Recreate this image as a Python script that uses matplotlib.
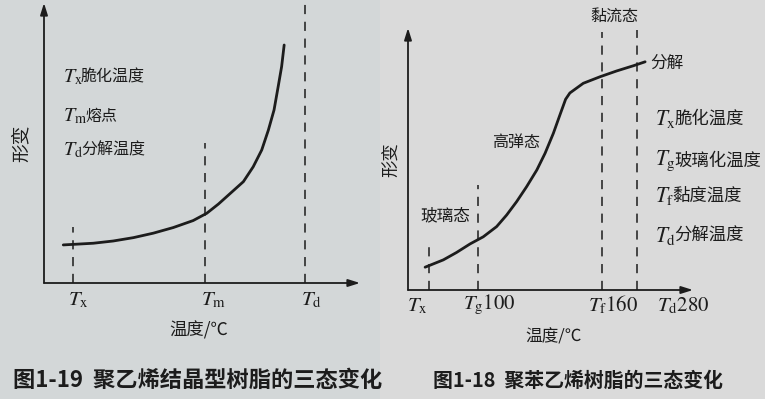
import numpy as np
import matplotlib
matplotlib.use('Agg')
import matplotlib.pyplot as plt

plt.rcParams['font.family'] = ['Noto Sans CJK SC', 'DejaVu Sans']
plt.rcParams['mathtext.fontset'] = 'stix'

# 图1-19 聚乙烯：温度 (相对单位) 与形变 (相对单位)
pe_temp = [6.1, 9.3, 15.6, 21.9, 28.3, 34.6, 40.9, 47.2, 51.5, 55.2, 63.1, 66.2,
           68.9, 71.0, 72.8, 74.1, 75.2, 76.0]
pe_def = [13.6, 13.8, 14.2, 15.0, 16.2, 17.8, 19.8, 22.3, 24.9, 28.2, 36.2, 41.5,
          47.5, 54.6, 61.8, 70.1, 77.3, 85.0]
pe_marks = [9.2, 51.0, 82.6]          # Tx, Tm, Td
pe_mark_top = [20.0, 50.0, 101.0]
pe_ticks = [r'$T_\mathrm{x}$', r'$T_\mathrm{m}$', r'$T_\mathrm{d}$']
pe_syms = [r'$T_\mathrm{x}$', r'$T_\mathrm{m}$', r'$T_\mathrm{d}$']
pe_notes = ['脆化温度', '熔点', '分解温度']

# 图1-18 聚苯乙烯
ps_temp = [6.0, 12.4, 17.0, 21.8, 26.4, 31.1, 34.6, 38.1, 41.6, 45.2, 48.1, 51.0,
           53.3, 55.3, 56.8, 61.5, 67.4, 73.2, 79.1, 83.2]
ps_def = [8.7, 11.5, 14.3, 17.6, 20.3, 24.2, 28.6, 33.7, 39.4, 45.8, 52.2, 59.8,
          66.8, 72.8, 75.2, 78.9, 81.4, 83.6, 85.6, 87.1]
ps_marks = [7.4, 24.6, 68.1, 80.4]    # Tx, Tg, Tf, Td
ps_mark_top = [19.1, 40.0, 98.5, 99.2]
ps_ticks = [r'$T_\mathrm{x}$', r'$T_\mathrm{g}\mathrm{100}$', r'$T_\mathrm{f}\mathrm{160}$',
            r'$T_\mathrm{d}\mathrm{280}$']
ps_syms = [r'$T_\mathrm{x}$', r'$T_\mathrm{g}$', r'$T_\mathrm{f}$', r'$T_\mathrm{d}$']
ps_notes = ['脆化温度', '玻璃化温度', '黏度温度', '分解温度']

ink = '#1c1c1c'
W, H = 765, 399
fig = plt.figure(figsize=(W / 100, H / 100), dpi=100)
fig.patch.set_facecolor('#dadada')

# 两张照片的底色略有不同
bg = fig.add_axes([0, 0, 380 / W, 1])
bg.set_facecolor('#d3d7d8')
bg.set_xticks([])
bg.set_yticks([])
for s in bg.spines.values():
    s.set_visible(False)


def panel(rect):
    ax = fig.add_axes(rect)
    ax.set_xlim(0, 100)
    ax.set_ylim(0, 100)
    ax.axis('off')
    ax.patch.set_alpha(0)
    arrow = dict(arrowstyle='-|>,head_length=0.7,head_width=0.22', color=ink, lw=1.3,
                 shrinkA=0, shrinkB=0)
    ax.annotate('', xy=(100, 0), xytext=(0, 0), arrowprops=arrow, annotation_clip=False)
    ax.annotate('', xy=(0, 100), xytext=(0, 0), arrowprops=arrow, annotation_clip=False)
    return ax


def note(ax, x, y, sym, txt, size):
    t = ax.text(x, y, sym, ha='left', va='center', fontsize=size + 3, color=ink)
    ax.annotate(txt, xy=(1, 0.5), xycoords=t, xytext=(-1.5, 0), textcoords='offset points',
                ha='left', va='center', fontsize=size, color=ink)


# ---- 左图 ----
ax1 = panel([44 / W, (H - 283) / H, 316 / W, 280 / H])
ax1.plot(pe_temp, pe_def, color=ink, lw=2.0, solid_capstyle='round', solid_joinstyle='round')
for xm, top in zip(pe_marks, pe_mark_top):
    ax1.plot([xm, xm], [0, top], color=ink, lw=1.1, dashes=(6, 5), clip_on=False)
for xm, lab in zip([10.8, 53.5, 84.5], pe_ticks):
    ax1.text(xm, -5.7, lab, ha='center', va='center', fontsize=15, color=ink)
for yy, sym, txt in zip([73.6, 59.6, 47.5], pe_syms, pe_notes):
    note(ax1, 6.0, yy, sym, txt, 11.5)
ax1.text(49, -16.8, '温度/℃', ha='center', va='center', fontsize=12.5, color=ink)
ax1.text(-7.3, 50, '形变', ha='center', va='center', rotation=90, fontsize=13.5, color=ink)
fig.text(13 / W, 1 - 380 / H, '图1-19  聚乙烯结晶型树脂的三态变化', ha='left', va='center',
         fontsize=16, fontweight='bold', color=ink)

# ---- 右图 ----
ax2 = panel([408 / W, (H - 290) / H, 285 / W, 262 / H])
ax2.plot(ps_temp, ps_def, color=ink, lw=2.0, solid_capstyle='round', solid_joinstyle='round')
for xm, top in zip(ps_marks, ps_mark_top):
    ax2.plot([xm, xm], [0, top], color=ink, lw=1.1, dashes=(6, 5), clip_on=False)
ax2.text(3.2, -5.7, ps_ticks[0], ha='center', va='center', fontsize=15, color=ink)
for xm, lab in zip([19.3, 63.2, 87.4], ps_ticks[1:]):
    ax2.text(xm, -5.7, lab, ha='left', va='center', fontsize=15, color=ink)
for yy, sym, txt in zip([65.3, 49.2, 35.9, 20.6], ps_syms, ps_notes):
    note(ax2, 86.7, yy, sym, txt, 12.5)
ax2.text(72.3, 104.6, '黏流态', ha='center', va='center', fontsize=11.5, color=ink)
ax2.text(84.9, 86.6, '分解', ha='left', va='center', fontsize=12, color=ink)
ax2.text(37.9, 56.5, '高弹态', ha='center', va='center', fontsize=11.5, color=ink)
ax2.text(13.0, 28.2, '玻璃态', ha='center', va='center', fontsize=12, color=ink)
ax2.text(50.9, -17.9, '温度/℃', ha='center', va='center', fontsize=12, color=ink)
ax2.text(-5.6, 49.6, '形变', ha='center', va='center', rotation=90, fontsize=12.5, color=ink)
fig.text(433 / W, 1 - 380 / H, '图1-18  聚苯乙烯树脂的三态变化', ha='left', va='center',
         fontsize=14.3, fontweight='bold', color=ink)

fig.savefig('out.png', dpi=100, facecolor=fig.get_facecolor())
